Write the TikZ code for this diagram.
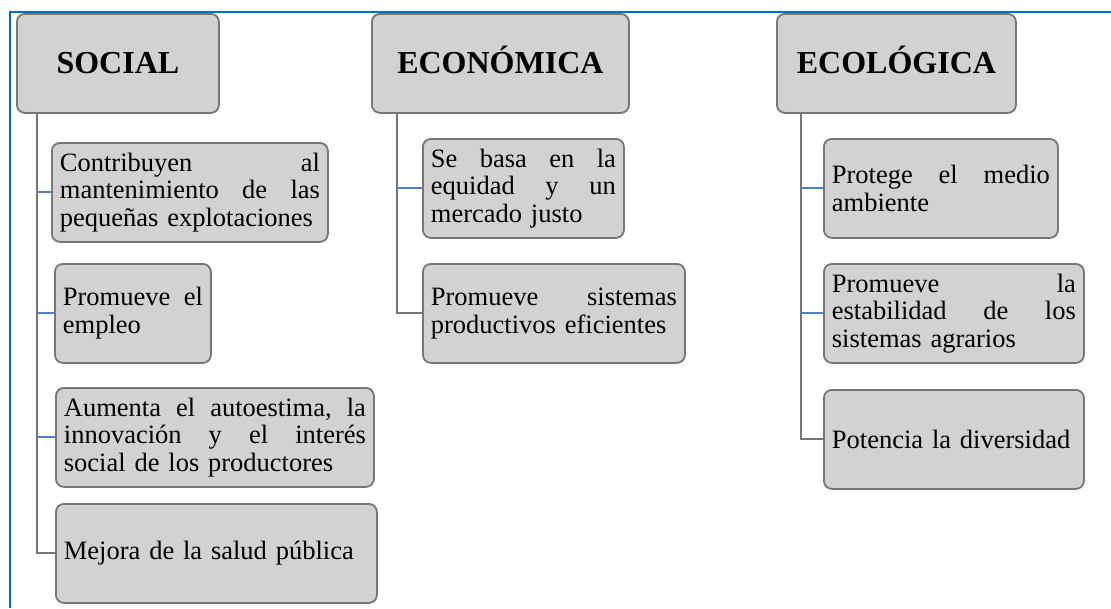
\documentclass[tikz,border=0pt]{standalone}
\usepackage{fontspec}
\setmainfont{Liberation Serif}
\usepackage[dvipsnames]{xcolor}
\definecolor{boxgray}{RGB}{211,209,211}
\definecolor{linegray}{RGB}{118,118,118}
\definecolor{branchblue}{RGB}{79,129,189}
\definecolor{frameblue}{RGB}{0,112,192}

\begin{document}
\begin{tikzpicture}[x=1pt,y=-1pt,
    head node/.style={draw=linegray,fill=boxgray,line width=1.8pt,rounded corners=8pt,anchor=north west,minimum height=99pt,text height=22pt,text depth=1pt,font=\fontsize{32}{36}\selectfont\bfseries},
    item node/.style={draw=linegray,fill=boxgray,line width=1.8pt,rounded corners=8pt,anchor=north west,minimum height=99pt,inner xsep=8pt,inner ysep=0pt,align=left,font=\fontsize{26.5}{27.7}\selectfont},
    trunk/.style={draw=linegray,line width=2pt},
    branch/.style={draw=branchblue,line width=2pt}]
                \useasboundingbox (0,0) rectangle (1111,608);
                \draw[frameblue,line width=2pt] (10,608) -- (10,12) -- (1111,12);

                % SOCIAL
                \node[head node,minimum width=202pt] (soc) at (16,13) {SOCIAL};
                \node[item node,text width=260pt] (soc1) at (51,142) {Contribuyen\hfill al\\mantenimiento\hfill de\hfill las\\pequeñas explotaciones};
                \node[item node,text width=140pt] (soc2) at (54,263) {Promueve\hfill el\\empleo};
                \node[item node,text width=302pt] (soc3) at (55,387) {Aumenta\hfill el\hfill autoestima,\hfill la\\innovación\hfill y\hfill el\hfill interés\\social de los productores};
                \node[item node,text width=305pt] (soc4) at (55,503) {Mejora de la salud pública};

                % ECONOMICA
                \node[head node,minimum width=257pt] (eco) at (371,13) {ECONÓMICA};
                \node[item node,text width=185pt] (eco1) at (422,138) {Se\hfill basa\hfill en\hfill la\\equidad\hfill y\hfill un\\mercado justo};
                \node[item node,text width=246pt] (eco2) at (422,263) {Promueve\hfill sistemas\\productivos eficientes};

                % ECOLOGICA
                \node[head node,minimum width=239pt] (ecol) at (776,13) {ECOLÓGICA};
                \node[item node,text width=218pt] (ecol1) at (823,138) {Protege\hfill el\hfill medio\\ambiente};
                \node[item node,text width=244pt] (ecol2) at (823,263) {Promueve\hfill la\\estabilidad\hfill de\hfill los\\sistemas agrarios};
                \node[item node,text width=244pt] (ecol3) at (823,389) {Potencia la diversidad};

                \coordinate (socT) at ([xshift=21pt]soc.south west);
                \coordinate (ecoT) at ([xshift=26pt]eco.south west);
                \coordinate (ecolT) at ([xshift=25pt]ecol.south west);

                \draw[trunk] (socT) |- (soc4.west);
                \draw[trunk] (ecoT) |- (eco2.west);
                \draw[trunk] (ecolT) |- (ecol3.west);
                \path[branch]
                    (socT |- soc1.west) edge (soc1.west)
                    (socT |- soc2.west) edge (soc2.west)
                    (socT |- soc3.west) edge (soc3.west)
                    (ecoT |- eco1.west) edge (eco1.west)
                    (ecolT |- ecol1.west) edge (ecol1.west)
                    (ecolT |- ecol2.west) edge (ecol2.west)
                    ;
            \end{tikzpicture}
\end{document}
